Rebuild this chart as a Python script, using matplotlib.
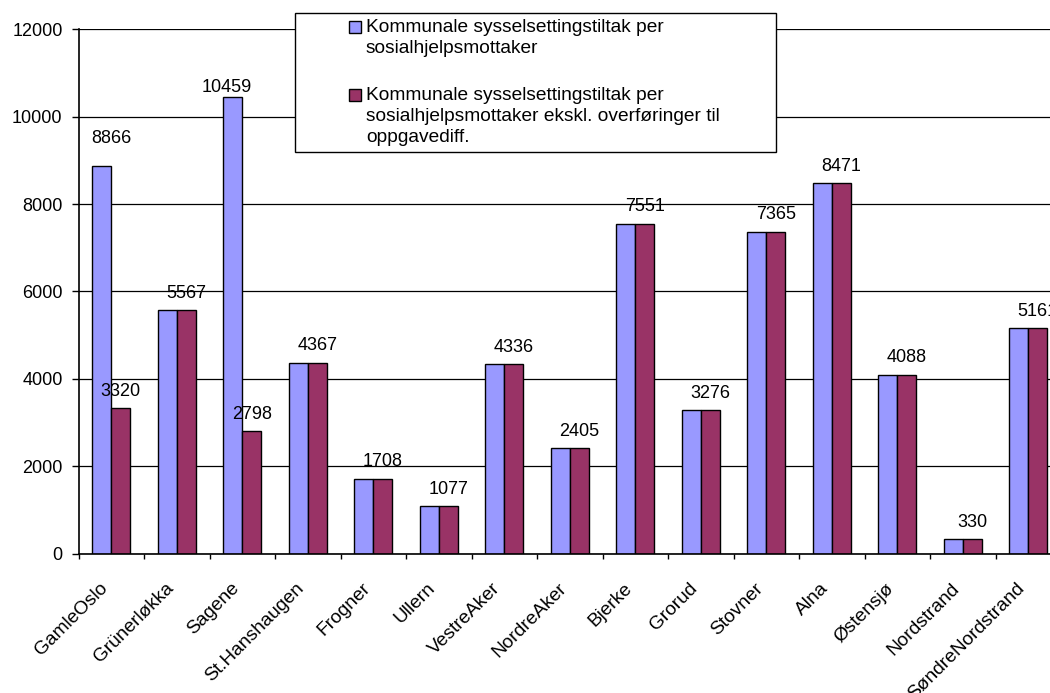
import matplotlib
matplotlib.use('Agg')
import matplotlib.pyplot as plt
from matplotlib.patches import Rectangle
import matplotlib.transforms as mtrans
import numpy as np

categories = ["GamleOslo", "Grünerløkka", "Sagene", "St.Hanshaugen", "Frogner", "Ullern",
              "VestreAker", "NordreAker", "Bjerke", "Grorud", "Stovner", "Alna",
              "Østensjø", "Nordstrand", "SøndreNordstrand"]
series1 = [8866, 5567, 10459, 4367, 1708, 1077, 4336, 2405, 7551, 3276, 7365, 8471, 4088, 330, 5161]
series2 = [3320, 5567, 2798, 4367, 1708, 1077, 4336, 2405, 7551, 3276, 7365, 8471, 4088, 330, 5161]
series_names = ["Kommunale sysselsettingstiltak per\nsosialhjelpsmottaker",
                "Kommunale sysselsettingstiltak per\nsosialhjelpsmottaker ekskl. overføringer til\noppgavediff."]
y_ticks = [0, 2000, 4000, 6000, 8000, 10000, 12000]
colors = ['#9999FF', '#993366']

plt.rcParams['font.family'] = ['Liberation Sans', 'DejaVu Sans']
FS = 13

W, H = 1050, 693
fig = plt.figure(figsize=(10.5, 6.93), dpi=100)
fig.patch.set_facecolor('white')


def fx(v):
    return v / W


def fy(v):
    return 1 - v / H


left, right, top, bottom = 78.5, 1061, 29.3, 553.5
ax = fig.add_axes([fx(left), fy(bottom), (right - left) / W, (bottom - top) / H])

x = np.arange(len(categories))
bw = 0.29
ax.bar(x - bw / 2, series1, bw, color=colors[0], edgecolor='black', linewidth=1, zorder=2)
ax.bar(x + bw / 2, series2, bw, color=colors[1], edgecolor='black', linewidth=1, zorder=2)

ax.set_xlim(-0.5, len(categories) - 0.5)
ax.set_ylim(0, 12000)
ax.set_yticks(y_ticks)
ax.set_yticklabels([str(v) for v in y_ticks], fontsize=FS)
ax.yaxis.grid(True, color='black', linewidth=0.9)
ax.set_axisbelow(True)
for s in ['top', 'right']:
    ax.spines[s].set_visible(False)
ax.spines['left'].set_linewidth(1.2)
ax.spines['bottom'].set_linewidth(1.2)
ax.tick_params(axis='y', length=5, width=1, pad=6.5, direction='out')

ax.set_xticks(x)
ax.set_xticklabels(categories, rotation=45, ha='right', va='center',
                   rotation_mode='anchor', fontsize=13.8)
ax.tick_params(axis='x', which='major', length=0, pad=24)
ax.set_xticks(np.arange(len(categories) + 1) - 0.5, minor=True)
ax.tick_params(axis='x', which='minor', length=3.6, width=1, direction='out')
shift = mtrans.ScaledTranslation(-6 / 100, 1 / 100, fig.dpi_scale_trans)
for lab in ax.get_xticklabels():
    lab.set_transform(lab.get_transform() + shift)

# label nudges in pixels (dx, extra dy) for hand-placed labels in the original
nudges = {(0, 0): (10, 11), (2, 0): (-6, -8)}
base_off = 9.0  # points
for i in range(len(categories)):
    if series1[i] != series2[i]:
        dx, dy = nudges.get((i, 0), (0, 0))
        ax.annotate(str(series1[i]), (x[i] - bw / 2, series1[i]),
                    xytext=(dx * 0.72, base_off + dy * 0.72),
                    textcoords='offset points', ha='center', va='baseline',
                    fontsize=FS, annotation_clip=False, zorder=4)
    dx, dy = nudges.get((i, 1), (0, 0))
    ax.annotate(str(series2[i]), (x[i] + bw / 2, series2[i]),
                xytext=(dx * 0.72, base_off + dy * 0.72),
                textcoords='offset points', ha='center', va='baseline',
                fontsize=FS, annotation_clip=False, zorder=4)

# legend box
lx0, ly0, lx1, ly1 = 295, 12.5, 775.5, 152
fig.add_artist(Rectangle((fx(lx0), fy(ly1)), (lx1 - lx0) / W, (ly1 - ly0) / H,
                         transform=fig.transFigure, facecolor='white',
                         edgecolor='black', linewidth=1, zorder=5))
handle_tops = [21, 89]
text_tops = [19.5, 87.5]
for name, col, ht, tt in zip(series_names, colors, handle_tops, text_tops):
    fig.add_artist(Rectangle((fx(348.5), fy(ht + 12)), 12 / W, 12 / H,
                             transform=fig.transFigure, facecolor=col,
                             edgecolor='black', linewidth=1, zorder=6))
    fig.text(fx(366), fy(tt), name, fontsize=13.8, ha='left', va='top',
             linespacing=1.3, zorder=7)

fig.savefig('out.png', dpi=100)
